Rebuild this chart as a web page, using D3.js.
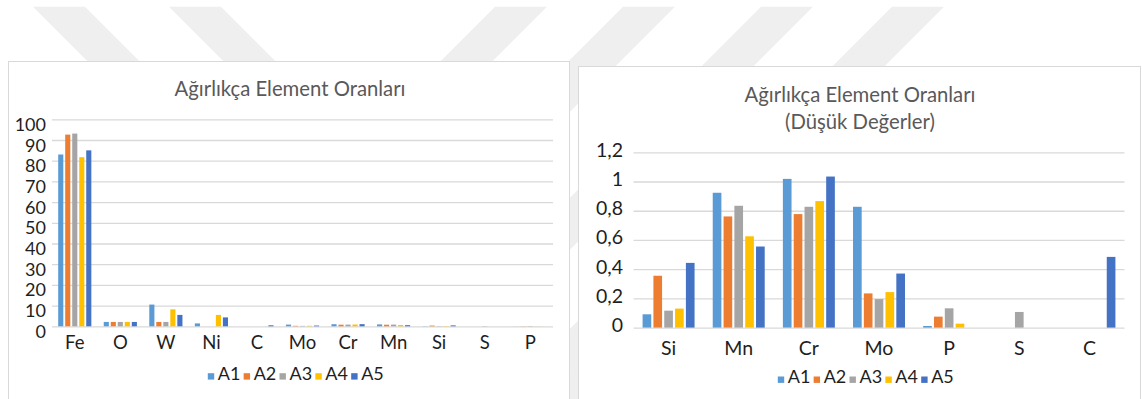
<!DOCTYPE html>
<html>
<head>
<meta charset="utf-8">
<script src="https://cdn.jsdelivr.net/npm/d3@7/dist/d3.min.js"></script>
<style>
  html, body { margin: 0; padding: 0; background: #ffffff; }
  svg { display: block; }
  text { font-family: Lato, "Open Sans", "Noto Sans", sans-serif; }
</style>
</head>
<body>
<svg id="chart" width="1142" height="399"></svg>
<script>
// ---- data -------------------------------------------------------------
const elements = ["Fe", "O", "W", "Ni", "C", "Mo", "Cr", "Mn", "Si", "S", "P"];
const seriesNames = ["A1", "A2", "A3", "A4", "A5"];

// weight percent per element, in the order of `elements`
const valuesA1 = [83.0, 2.1, 10.5, 1.4, 0, 0.827, 1.018, 0.923, 0.091, 0, 0.011];
const valuesA2 = [92.6, 2.1, 2.1, 0, 0, 0.234, 0.777, 0.761, 0.355, 0, 0.075];
const valuesA3 = [93.1, 2.1, 2.1, 0, 0, 0.195, 0.827, 0.834, 0.116, 0.107, 0.132];
const valuesA4 = [81.7, 2.1, 8.2, 5.5, 0, 0.243, 0.866, 0.625, 0.13, 0, 0.027];
const valuesA5 = [85.0, 2.1, 5.5, 4.3, 0.484, 0.37, 1.034, 0.555, 0.443, 0, 0];

// second chart shows only the minor elements
const lowElements = ["Si", "Mn", "Cr", "Mo", "P", "S", "C"];

const mainTicks = [0, 10, 20, 30, 40, 50, 60, 70, 80, 90, 100];
const lowTicks = [0, 0.2, 0.4, 0.6, 0.8, 1.0, 1.2];

const mainTitle = ["Ağırlıkça Element Oranları"];
const lowTitle = ["Ağırlıkça Element Oranları", "(Düşük Değerler)"];

// ---- styling ---------------------------------------------------------
const seriesColors = ["#5B9BD5", "#ED7D31", "#A5A5A5", "#FFC000", "#4472C4"];
const allSeries = [valuesA1, valuesA2, valuesA3, valuesA4, valuesA5];
const trFormat = d3.formatLocale({ decimal: ",", thousands: ".", grouping: [3], currency: ["", " ₺"] }).format(".2~f");

const svg = d3.select("#chart");

// faint diagonal watermark bands behind the chart boxes
const bg = svg.append("g");
const bandTop = 6.7, bandBottom = 420, bandW = 52;
const downRight = [33, 169];
const downLeft = [495, 623, 761, 892];
const span = bandBottom - bandTop;
downRight.forEach(x => {
  bg.append("polygon")
    .attr("points", [[x, bandTop], [x + bandW, bandTop], [x + bandW + span, bandBottom], [x + span, bandBottom]].join(" "))
    .attr("fill", "#efefef");
});
downLeft.forEach(x => {
  bg.append("polygon")
    .attr("points", [[x, bandTop], [x + bandW, bandTop], [x + bandW - span, bandBottom], [x - span, bandBottom]].join(" "))
    .attr("fill", "#efefef");
});

function drawChart(cfg) {
  const g = svg.append("g");

  // chart frame
  g.append("rect")
    .attr("x", cfg.box[0]).attr("y", cfg.box[1])
    .attr("width", cfg.box[2] - cfg.box[0]).attr("height", 460 - cfg.box[1])
    .attr("fill", "#ffffff").attr("stroke", "#d9d9d9").attr("stroke-width", 1);

  // title
  cfg.title.forEach((line, i) => {
    g.append("text")
      .attr("x", cfg.titleX).attr("y", cfg.titleY + i * cfg.titleStep)
      .attr("text-anchor", "middle").attr("dominant-baseline", "central")
      .attr("fill", "#595959").attr("font-size", cfg.titleSize)
      .text(line);
  });

  const y = d3.scaleLinear().domain(cfg.yDomain).range([cfg.y0, cfg.yTop]);
  const x0 = d3.scaleBand().domain(cfg.categories).range([cfg.xLeft, cfg.xRight])
    .paddingInner(cfg.groupPad).paddingOuter(cfg.groupPad / 2);
  const x1 = d3.scaleBand().domain(seriesNames).range([0, x0.bandwidth()])
    .paddingInner(cfg.barPad).paddingOuter(0);

  // gridlines
  const yAxis = d3.axisLeft(y).tickValues(cfg.ticks)
    .tickSize(-(cfg.xRight - cfg.xLeft)).tickFormat("");
  const grid = g.append("g").attr("transform", `translate(${cfg.xLeft},0)`).call(yAxis);
  grid.select(".domain").remove();
  grid.selectAll(".tick line").attr("stroke", "#d9d9d9").attr("stroke-width", 1.3);

  // value labels on the vertical axis
  g.append("g").selectAll("text").data(cfg.ticks).join("text")
    .attr("x", cfg.tickX)
    .attr("y", d => y(d) + cfg.tickDy)
    .attr("text-anchor", "end").attr("dominant-baseline", "central")
    .attr("fill", "#1e1e1e").attr("font-size", cfg.tickSize)
    .text(d => cfg.fmt(d));

  // bars
  const rows = cfg.categories.map(c => {
    const idx = elements.indexOf(c);
    return { cat: c, vals: allSeries.map((s, k) => ({ name: seriesNames[k], k, v: s[idx] })) };
  });
  const groups = g.append("g").selectAll("g").data(rows).join("g")
    .attr("transform", d => `translate(${x0(d.cat)},0)`);
  groups.selectAll("rect").data(d => d.vals).join("rect")
    .attr("x", d => x1(d.name))
    .attr("width", x1.bandwidth())
    .attr("y", d => y(d.v))
    .attr("height", d => y(0) - y(d.v))
    .attr("fill", d => seriesColors[d.k]);

  // category labels
  g.append("g").selectAll("text").data(cfg.categories).join("text")
    .attr("x", d => x0(d) + x0.bandwidth() / 2)
    .attr("y", cfg.catY)
    .attr("text-anchor", "middle").attr("dominant-baseline", "central")
    .attr("fill", "#1e1e1e").attr("font-size", cfg.catSize)
    .text(d => d);

  // legend
  const step = 35.85, sq = 6.4;
  const leg = g.append("g");
  const totalW = step * 4 + sq + 3.6 + 23;
  const lx = cfg.legendCx - totalW / 2;
  seriesNames.forEach((name, k) => {
    const gx = lx + k * step;
    leg.append("rect")
      .attr("x", gx).attr("y", cfg.legendBase - sq - 0.4)
      .attr("width", sq).attr("height", sq)
      .attr("fill", seriesColors[k]);
    leg.append("text")
      .attr("x", gx + sq + 3.6).attr("y", cfg.legendBase)
      .attr("fill", "#1e1e1e").attr("font-size", cfg.legendSize)
      .text(name);
  });
}

drawChart({
  box: [8.5, 61.5, 569.5],
  title: mainTitle, titleX: 290, titleY: 87.5, titleStep: 27, titleSize: 20.3,
  categories: elements,
  yDomain: [0, 100], ticks: mainTicks, y0: 326.3, yTop: 119.3,
  xLeft: 52, xRight: 553, groupPad: 0.272, barPad: 0.27,
  tickX: 46, tickDy: 4.5, tickSize: 18, fmt: d => String(d),
  catY: 342, catSize: 18.5,
  legendCx: 296, legendBase: 380, legendSize: 18
});

drawChart({
  box: [578.5, 66.5, 1140.5],
  title: lowTitle, titleX: 860, titleY: 93.5, titleStep: 27.3, titleSize: 20.3,
  categories: lowElements,
  yDomain: [0, 1.2], ticks: lowTicks, y0: 327.6, yTop: 152.3,
  xLeft: 633.5, xRight: 1124.5, groupPad: 0.259, barPad: 0.2,
  tickX: 623, tickDy: -3, tickSize: 19.5, fmt: trFormat,
  catY: 347.5, catSize: 19.5,
  legendCx: 866, legendBase: 383.3, legendSize: 18
});
</script>
</body>
</html>
